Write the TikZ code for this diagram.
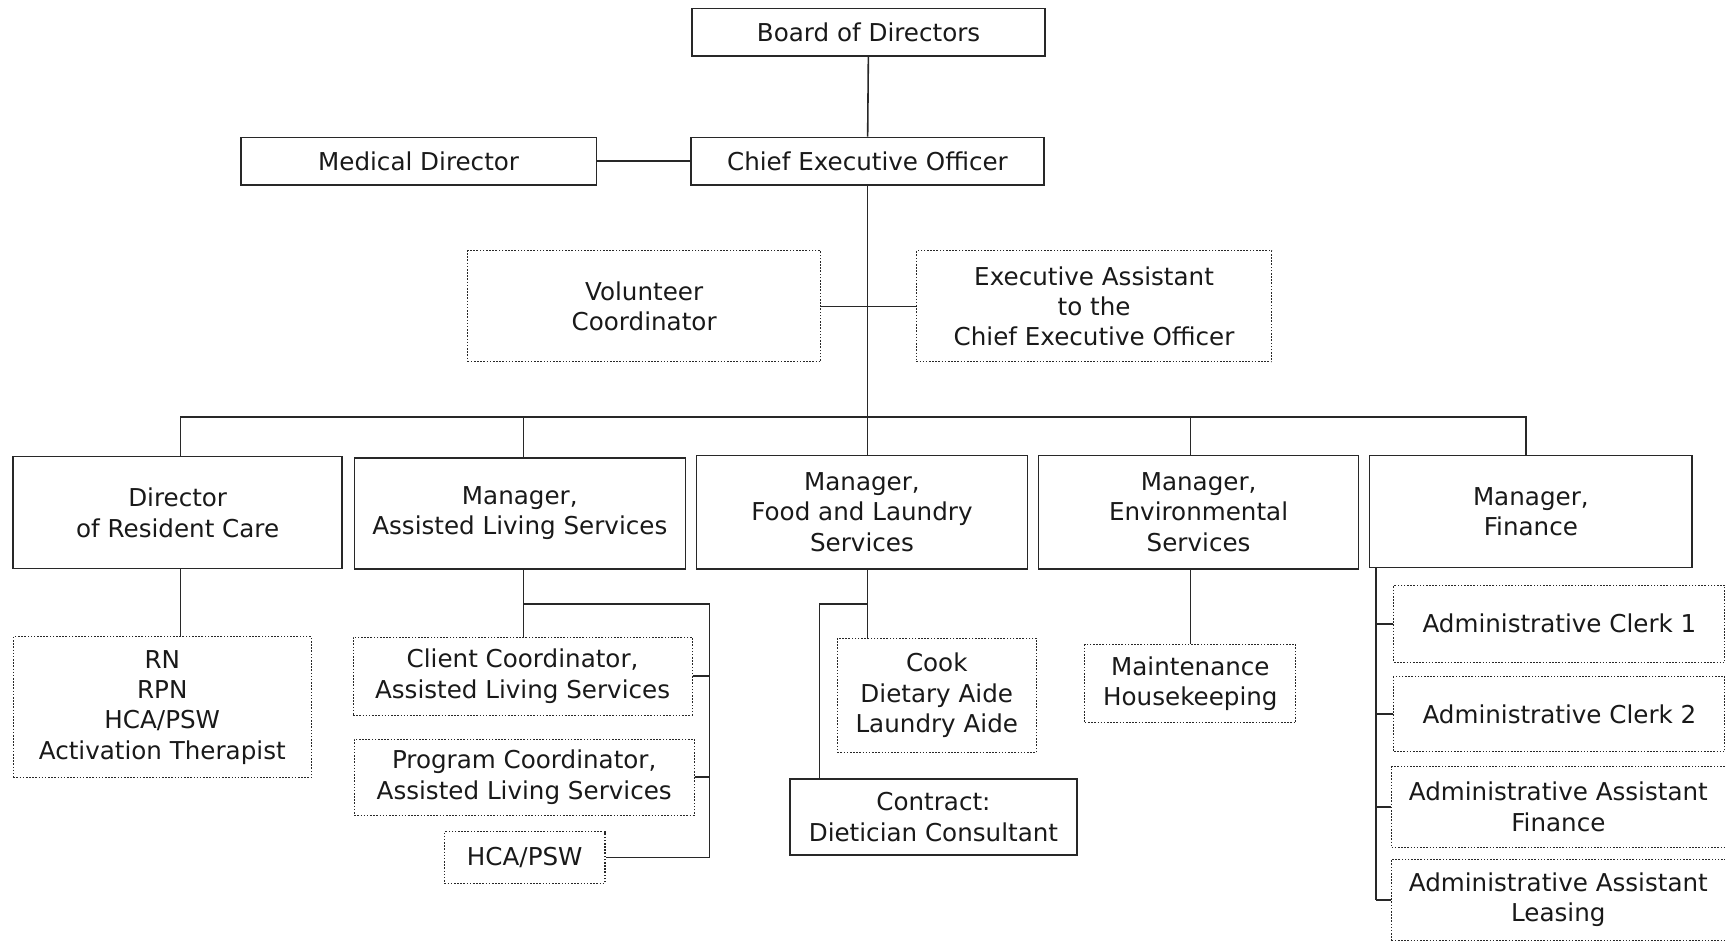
\documentclass[tikz,border=0pt]{standalone}
\usepackage{fontspec}
\setmainfont{DejaVu Sans}
\usepackage{tikz}
\usetikzlibrary{positioning,calc}
\definecolor{linecolor}{RGB}{40,40,40}
\definecolor{textcolor}{RGB}{25,25,25}

\begin{document}
\begin{tikzpicture}[
    x=0.022cm, y=-0.022cm,
    post/.style={rectangle, draw=linecolor, line width=0.9pt, align=center, text=textcolor, inner sep=2pt, font=\fontsize{14}{17.3}\selectfont},
    role/.style={post, line width=0.6pt, dash pattern=on 0.9pt off 0.9pt},
    link/.style={draw=linecolor, line width=0.9pt}
]
\useasboundingbox (0,0) rectangle (1568,855);

% Top of the chart
\node[post, minimum width=7.06cm, minimum height=0.95cm] (board) at (789.5,29.5) {Board of Directors};
\node[post, minimum width=7.06cm, minimum height=0.95cm] (ceo) at (788.5,146.5) {Chief Executive Officer};
\node[post, minimum width=7.11cm, minimum height=0.95cm] (med) at (380.5,146.5) {Medical Director};
\node[role, minimum width=7.06cm, minimum height=2.22cm] (vol) at (585.5,278.5) {Volunteer\\Coordinator};
\node[role, minimum width=7.11cm, minimum height=2.22cm] (exec) at (994.5,278.5) {Executive Assistant\\to the\\Chief Executive Officer};

% Managers
\node[post, minimum width=6.58cm, minimum height=2.24cm] (dirrc) at (161.5,466) {Director\\of Resident Care};
\node[post, minimum width=6.62cm, minimum height=2.22cm] (asl) at (472.5,466.5) {Manager,\\Assisted Living Services};
\node[post, minimum width=6.62cm, minimum height=2.27cm] (food) at (783.5,465.5) {Manager,\\Food and Laundry\\Services};
\node[post, minimum width=6.40cm, minimum height=2.27cm] (env) at (1089.5,465.5) {Manager,\\Environmental\\Services};
\node[post, minimum width=6.45cm, minimum height=2.24cm] (fin) at (1391.5,465) {Manager,\\Finance};

% Staff
\node[role, minimum width=5.96cm, minimum height=2.82cm] (nursing) at (147.5,643) {RN\\RPN\\HCA/PSW\\Activation Therapist};
\node[role, minimum width=6.78cm, minimum height=1.56cm] (client) at (475,614.5) {Client Coordinator,\\Assisted Living Services};
\node[role, minimum width=6.80cm, minimum height=1.52cm] (prog) at (476.5,706.5) {Program Coordinator,\\Assisted Living Services};
\node[role, minimum width=3.21cm, minimum height=1.03cm] (hca) at (477,779.5) {HCA/PSW};
\node[role, minimum width=3.98cm, minimum height=2.29cm] (cook) at (851.5,632) {Cook\\Dietary Aide\\Laundry Aide};
\node[post, minimum width=5.74cm, minimum height=1.52cm] (diet) at (848.5,742.5) {Contract:\\Dietician Consultant};
\node[role, minimum width=4.22cm, minimum height=1.56cm] (maint) at (1082,621.5) {Maintenance\\Housekeeping};
\node[role, minimum width=6.62cm, minimum height=1.54cm] (clerk1) at (1417.5,567) {Administrative Clerk 1};
\node[role, minimum width=6.62cm, minimum height=1.50cm] (clerk2) at (1417.5,649) {Administrative Clerk 2};
\node[role, minimum width=6.67cm, minimum height=1.61cm] (aafin) at (1416.5,733.5) {Administrative Assistant\\Finance};
\node[role, minimum width=6.67cm, minimum height=1.63cm] (aalease) at (1416.5,818) {Administrative Assistant\\Leasing};

% Bus and bracket points
\coordinate (bus) at (790,379);
\coordinate (dirdrop) at (164,379);
\coordinate (asldrop) at (476,379);
\coordinate (findrop) at (1387,379);
\coordinate (aslbr) at (645,549);
\coordinate (foodbr) at (745,549);
\coordinate (finbr) at (1251,516);

% Lines
\draw[link] (board) -- (ceo);
\draw[link] (med) -- (ceo);
\draw[link] (vol) -- (exec);
\draw[link] (ceo.south) -- (ceo.south |- food.north);
\draw[link] (dirdrop |- dirrc.north) -- (dirdrop) -- (findrop) -- (findrop |- fin.north);
\draw[link] (asldrop) -- (asldrop |- asl.north);
\draw[link] (maint.north |- bus) -- (maint.north |- env.north);

\draw[link] (dirdrop |- dirrc.south) -- (dirdrop |- nursing.north);

\draw[link] (asl.south -| asldrop) -- (asldrop |- client.north);
\draw[link] (asldrop |- aslbr) -- (aslbr) |- (hca.east);
\draw[link] (client.east) -- (client.east -| aslbr);
\draw[link] (prog.east) -- (prog.east -| aslbr);

\draw[link] (ceo.south |- food.south) -- (ceo.south |- cook.north);
\draw[link] (ceo.south |- foodbr) -- (foodbr) -- (foodbr |- diet.north);

\draw[link] (env.south -| maint.north) -- (maint.north);

\draw[link] (finbr) -- (finbr |- aalease.west);
\draw[link] (clerk1.west -| finbr) -- (clerk1.west);
\draw[link] (clerk2.west -| finbr) -- (clerk2.west);
\draw[link] (aafin.west -| finbr) -- (aafin.west);
\draw[link] (aalease.west -| finbr) -- (aalease.west);

\end{tikzpicture}
\end{document}
